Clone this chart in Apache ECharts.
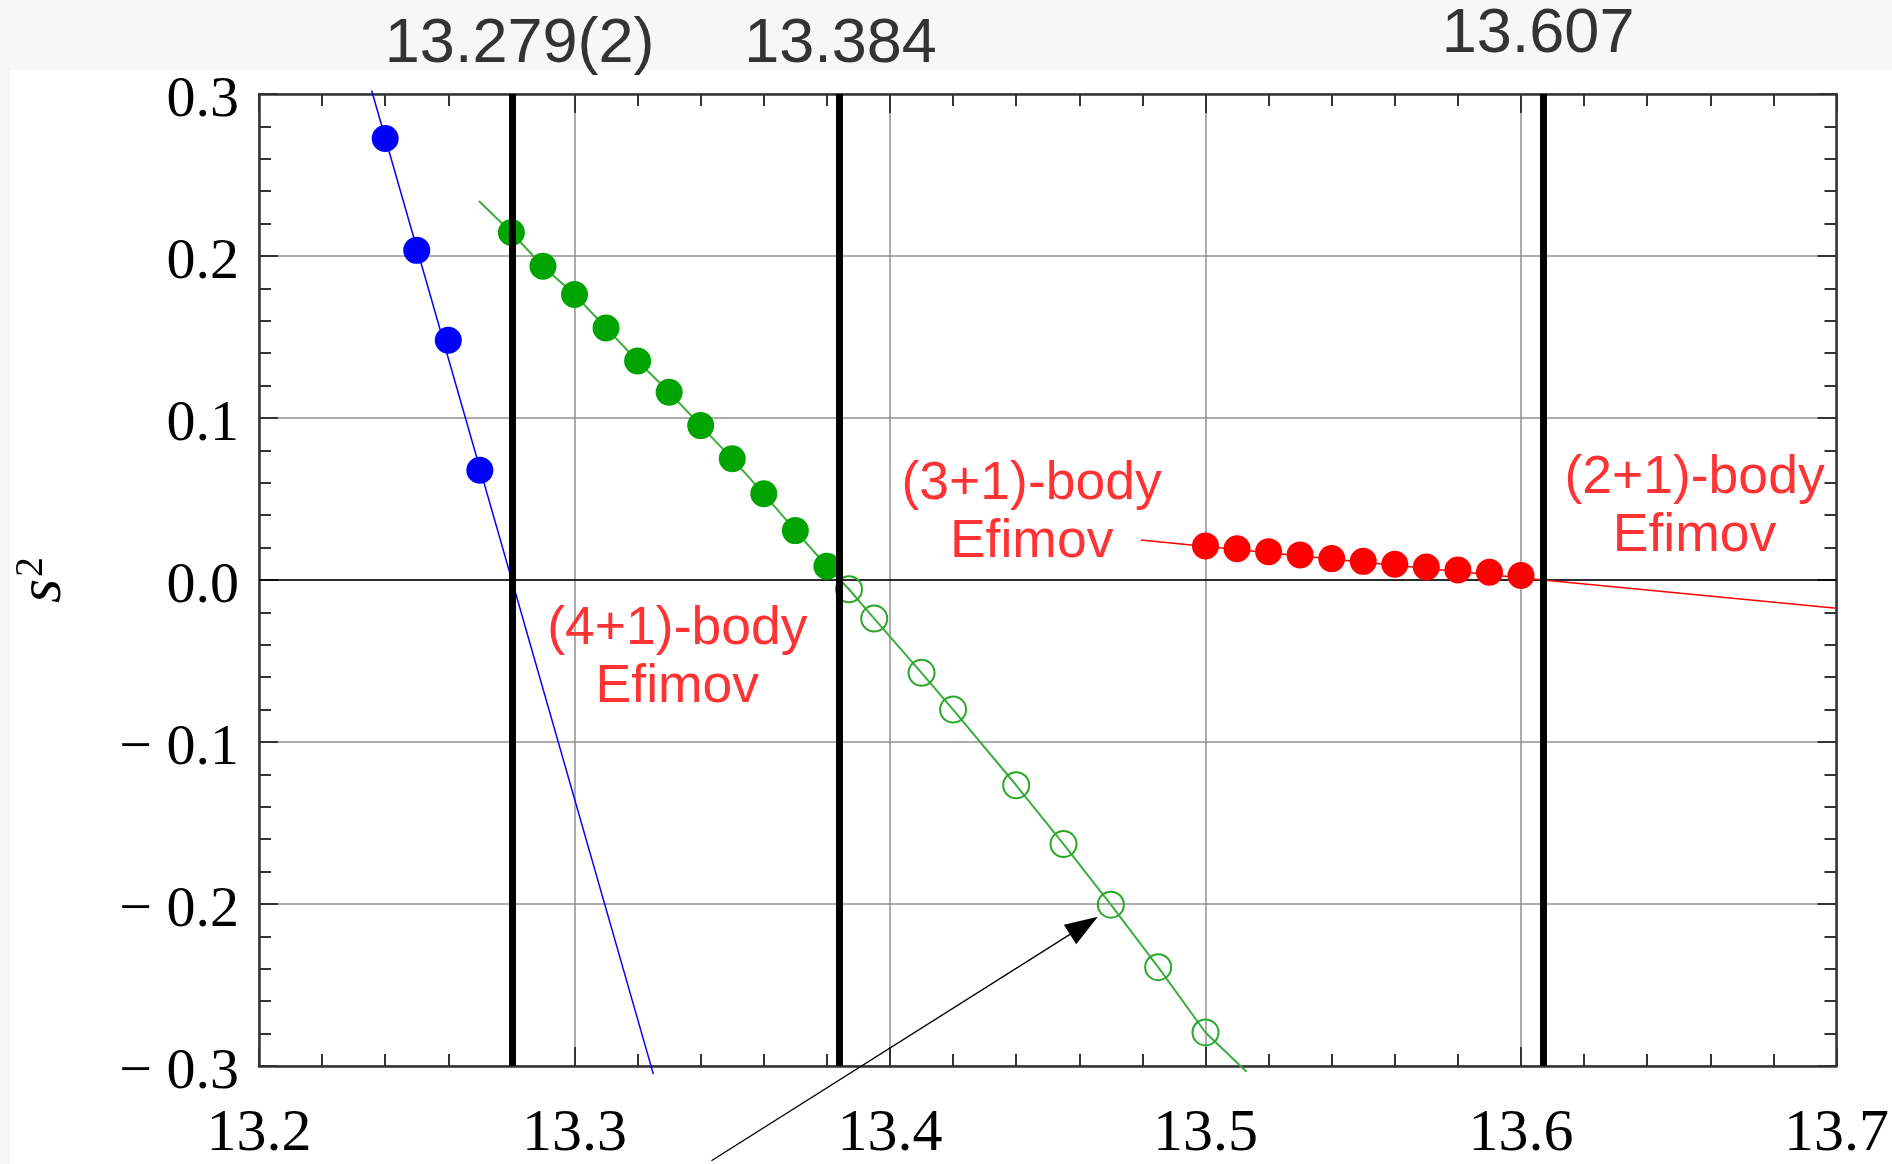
<!DOCTYPE html>
<html>
<head>
<meta charset="utf-8">
<style>
html,body{margin:0;padding:0;background:#f7f7f7;overflow:hidden;}
#paper{position:absolute;left:10px;top:70px;width:1882px;height:1094px;background:#ffffff;}
#c{position:absolute;left:0;top:0;width:1892px;height:1164px;}
</style>
<script src="https://cdn.jsdelivr.net/npm/echarts@6/dist/echarts.min.js"></script>
</head>
<body>
<div id="paper"></div>
<div id="c"></div>
<script>
// ---- data ----
const blueX = [13.24, 13.25, 13.26, 13.27];
const blueY = [0.2725, 0.2035, 0.1480, 0.0677];
const blueFit = [[13.2357, 0.3022], [13.3250, -0.3050]];

const greenFilledX = [13.28, 13.29, 13.30, 13.31, 13.32, 13.33, 13.34, 13.35, 13.36, 13.37, 13.38];
const greenFilledY = [0.2145, 0.1937, 0.1762, 0.1556, 0.1352, 0.1159, 0.0953, 0.0748, 0.0532, 0.0305, 0.0085];
const greenOpenX = [13.387, 13.395, 13.410, 13.420, 13.440, 13.455, 13.470, 13.485, 13.500];
const greenOpenY = [-0.0057, -0.0238, -0.0573, -0.0800, -0.1267, -0.1630, -0.2004, -0.2390, -0.2793];
const greenFitStart = [13.2697, 0.2340];
const greenFitEnd = [13.5130, -0.3035];

const redX = [13.50, 13.51, 13.52, 13.53, 13.54, 13.55, 13.56, 13.57, 13.58, 13.59, 13.60];
const redY = [0.0210, 0.0193, 0.0175, 0.0155, 0.0132, 0.0115, 0.0097, 0.0080, 0.0062, 0.0048, 0.0028];
const redFit = [[13.4795, 0.0247], [13.607, 0.0], [13.700, -0.0175]];

// threshold lines as drawn in the picture, and their printed labels
const thresholds = [13.2804, 13.384, 13.607];
const thresholdLabels = ['13.279(2)', '13.384', '13.607'];

const annotationTexts = ['(4+1)-body\nEfimov', '(3+1)-body\nEfimov', '(2+1)-body\nEfimov'];
const annotationX = [13.3326, 13.4449, 13.6550];
const annotationY = [-0.0483, 0.0409, 0.0452];

const arrowFrom = [13.3434, -0.3585];
const arrowTo = [13.4659, -0.2079];

const xTickLabels = ['13.2', '13.3', '13.4', '13.5', '13.6', '13.7'];
const yTickLabels = ['\u2212 0.3', '\u2212 0.2', '\u2212 0.1', '0.0', '0.1', '0.2', '0.3'];

// ---- styles ----
const serif = '"Liberation Serif", "Times New Roman", serif';
const sans = '"Liberation Sans", Arial, sans-serif';
const frameLine = {color: '#333333', width: 2.5};
const tickLine = {color: '#333333', width: 2};
const zip = (xs, ys) => xs.map((x, i) => [x, ys[i]]);

const xLabelFmt = v => xTickLabels[Math.round((v - 13.2) * 10)] || '';
const yLabelFmt = v => {
  const t = yTickLabels[Math.round((v + 0.3) * 10)];
  return t ? '{t|' + t + '}' : '';
};

const chart = echarts.init(document.getElementById('c'), null, {renderer: 'canvas'});

const baseX = {
  type: 'value', min: 13.2, max: 13.7, interval: 0.1,
  axisLine: {show: true, onZero: false, lineStyle: frameLine},
  axisTick: {show: true, inside: true, length: 19, lineStyle: tickLine},
  minorTick: {show: true, splitNumber: 5, length: 12, lineStyle: tickLine},
  minorSplitLine: {show: false}
};
const baseY = {
  type: 'value', min: -0.3, max: 0.3, interval: 0.1,
  axisLine: {show: true, onZero: false, lineStyle: frameLine},
  axisTick: {show: true, inside: true, length: 19, lineStyle: tickLine},
  minorTick: {show: true, splitNumber: 5, length: 12, lineStyle: tickLine},
  minorSplitLine: {show: false}
};

const option = {
  animation: false,
  backgroundColor: 'transparent',
  grid: {left: 259, top: 94, width: 1578, height: 975, show: false, containLabel: false},
  xAxis: [
    Object.assign({}, baseX, {
      position: 'bottom',
      axisLabel: {show: true, margin: 38, color: '#000', fontFamily: serif, fontSize: 60,
                  showMinLabel: true, showMaxLabel: true, formatter: xLabelFmt},
      splitLine: {show: true, lineStyle: {color: '#919191', width: 1.5}}
    }),
    Object.assign({}, baseX, {
      position: 'top',
      axisLabel: {show: false},
      splitLine: {show: false}
    })
  ],
  yAxis: [
    Object.assign({}, baseY, {
      position: 'left',
      name: '{s|s}{sup|2}',
      nameLocation: 'middle',
      nameRotate: 90,
      nameGap: 184,
      nameTextStyle: {
        rich: {
          s: {fontFamily: serif, fontStyle: 'italic', fontSize: 62, color: '#000', verticalAlign: 'bottom'},
          sup: {fontFamily: serif, fontSize: 40, color: '#000', verticalAlign: 'bottom', padding: [0, 0, 24, 2]}
        }
      },
      axisLabel: {show: true, margin: 20, color: '#000', fontFamily: serif, fontSize: 58,
                  showMinLabel: true, showMaxLabel: true, formatter: yLabelFmt,
                  rich: {t: {color: '#000', fontFamily: serif, fontSize: 58, padding: [14, 0, 0, 0]}}},
      splitLine: {show: true, lineStyle: {color: '#919191', width: 1.5}}
    }),
    Object.assign({}, baseY, {
      position: 'right',
      axisLabel: {show: false},
      splitLine: {show: false}
    })
  ],
  series: [
    {
      name: 'blueFit', type: 'line', data: blueFit, symbol: 'none', clip: false, z: 2,
      lineStyle: {color: '#0000ff', width: 1.5}, silent: true,
      markLine: {
        silent: true, symbol: ['none', 'none'], z: 1, animation: false, precision: 5,
        label: {show: false},
        lineStyle: {color: '#000000', width: 1.6, type: 'solid'},
        data: [{yAxis: 0}]
      }
    },
    {
      name: 'blue', type: 'scatter', data: zip(blueX, blueY), symbolSize: 27, z: 3,
      itemStyle: {color: '#0000ff', opacity: 1}, silent: true
    },
    {
      name: 'greenFit', type: 'line',
      data: [greenFitStart].concat(zip(greenFilledX, greenFilledY), zip(greenOpenX, greenOpenY), [greenFitEnd]),
      symbol: 'none', clip: false, z: 2, silent: true,
      lineStyle: {color: '#3cae3c', width: 2}
    },
    {
      name: 'greenFilled', type: 'scatter', data: zip(greenFilledX, greenFilledY), symbolSize: 27, z: 3,
      itemStyle: {color: '#00a400', opacity: 1}, silent: true
    },
    {
      name: 'greenOpen', type: 'scatter', data: zip(greenOpenX, greenOpenY), symbolSize: 26, z: 3,
      itemStyle: {color: 'rgba(0,0,0,0)', borderColor: '#2aa82a', borderWidth: 2, opacity: 1}, silent: true
    },
    {
      name: 'redFit', type: 'line', data: redFit, symbol: 'none', clip: false, z: 2, silent: true,
      lineStyle: {color: '#ff0000', width: 1.5},
      markLine: {
        silent: true, symbol: ['none', 'none'], z: 10, animation: false, precision: 5,
        label: {show: false},
        lineStyle: {color: '#000000', width: 7, type: 'solid'},
        data: thresholds.map(v => ({xAxis: v}))
      }
    },
    {
      name: 'red', type: 'scatter', data: zip(redX, redY), symbolSize: 27, z: 3,
      itemStyle: {color: '#ff0000', opacity: 1}, silent: true
    }
  ]
};
chart.setOption(option);

// ---- overlays positioned through the chart's own scales ----
const toPx = (p) => chart.convertToPixel({xAxisIndex: 0, yAxisIndex: 0}, p);
const labelDx = [7, 1, -5];
const labelTop = [45, 45, 35];
const graphics = [];
thresholds.forEach((v, i) => {
  const p = toPx([v, 0]);
  graphics.push({
    type: 'text', x: p[0] + labelDx[i], y: labelTop[i], z: 20, silent: true,
    style: {text: thresholdLabels[i], fill: '#333333', font: '63px ' + sans,
            align: 'center', verticalAlign: 'middle'}
  });
});
annotationTexts.forEach((t, i) => {
  const p = toPx([annotationX[i], annotationY[i]]);
  graphics.push({
    type: 'text', x: p[0], y: p[1], z: 20, silent: true,
    style: {text: t, fill: '#ff3333', font: '53.5px ' + sans, lineHeight: 58,
            align: 'center', verticalAlign: 'middle'}
  });
});
// arrow
const a0 = toPx(arrowFrom), a1 = toPx(arrowTo);
const dx = a1[0] - a0[0], dy = a1[1] - a0[1];
const len = Math.sqrt(dx * dx + dy * dy);
const ux = dx / len, uy = dy / len;
const headLen = 33, headHalf = 11.5;
const bx = a1[0] - ux * headLen, by = a1[1] - uy * headLen;
graphics.push({
  type: 'line', z: 20, silent: true,
  shape: {x1: a0[0], y1: a0[1], x2: bx, y2: by},
  style: {stroke: '#000', lineWidth: 1.3}
});
graphics.push({
  type: 'polygon', z: 20, silent: true,
  shape: {points: [[a1[0], a1[1]], [bx - uy * headHalf, by + ux * headHalf], [bx + uy * headHalf, by - ux * headHalf]]},
  style: {fill: '#000'}
});
chart.setOption({graphic: {elements: graphics}});
</script>
</body>
</html>
